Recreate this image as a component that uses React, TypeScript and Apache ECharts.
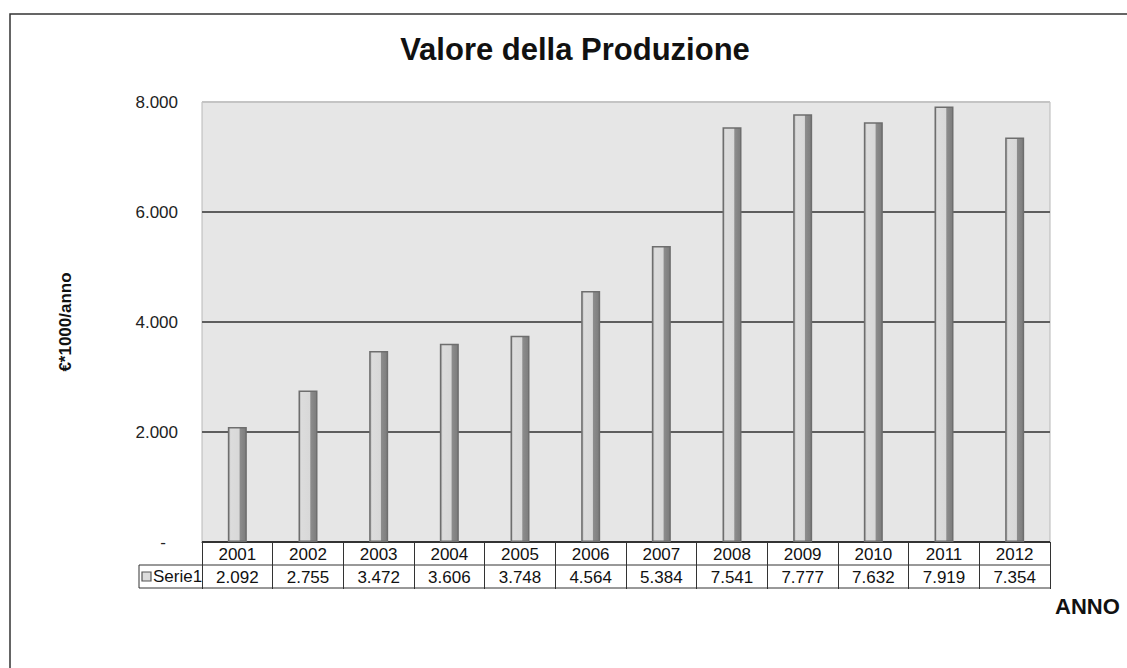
import React, { useEffect, useRef } from "react";
import * as echarts from "echarts";

const categories = ["2001", "2002", "2003", "2004", "2005", "2006", "2007", "2008", "2009", "2010", "2011", "2012"];
const values = [2092, 2755, 3472, 3606, 3748, 4564, 5384, 7541, 7777, 7632, 7919, 7354];
const seriesName = "Serie1";
const chartTitle = "Valore della Produzione";
const yAxisName = "€*1000/anno";
const xAxisName = "ANNO";
const yMin = 0;
const yMax = 8000;
const yInterval = 2000;

const W = 1127;
const H = 668;
const GRID_LEFT = 202;
const GRID_RIGHT = 77;
const GRID_TOP = 102;
const GRID_BOTTOM = 126;
const ROW_H = 23;

const fmt = (v: number) => String(v).replace(/\B(?=(\d{3})+(?!\d))/g, ".");

export default function App() {
  const ref = useRef<HTMLDivElement>(null);
  useEffect(() => {
    if (!ref.current) return;
    const chart = echarts.init(ref.current, undefined, { renderer: "svg" });
    const axisY = H - GRID_BOTTOM;
    const gridRightX = W - GRID_RIGHT;
    const legendLeft = 139;
    const font = "Arial, 'Liberation Sans', sans-serif";
    chart.setOption({
      animation: false,
      backgroundColor: "#ffffff",
      textStyle: { fontFamily: font },
      title: {
        text: chartTitle,
        left: 570,
        top: 29,
        textAlign: "center",
        textStyle: { fontSize: 31, fontWeight: "bold", color: "#111", fontFamily: font },
      },
      grid: {
        left: GRID_LEFT,
        right: GRID_RIGHT,
        top: GRID_TOP,
        bottom: GRID_BOTTOM,
        show: true,
        backgroundColor: "#e6e6e6",
        borderColor: "#b8b8b8",
        borderWidth: 1,
      },
      xAxis: {
        type: "category",
        data: categories,
        axisLine: { show: true, lineStyle: { color: "#333", width: 1 } },
        axisTick: { show: true, interval: 0, length: ROW_H * 2 + 1, lineStyle: { color: "#333", width: 1 } },
        axisLabel: {
          interval: 0,
          margin: 1,
          color: "#111",
          formatter: (value: string, idx: number) => `{y|${value}}\n{v|${fmt(values[idx])}}`,
          rich: {
            y: { fontSize: 17, lineHeight: ROW_H, color: "#111", fontFamily: font },
            v: { fontSize: 17, lineHeight: ROW_H, color: "#111", fontFamily: font },
          },
        },
      },
      yAxis: {
        type: "value",
        min: yMin,
        max: yMax,
        interval: yInterval,
        name: yAxisName,
        nameLocation: "middle",
        nameGap: 128,
        nameRotate: 90,
        nameTextStyle: { fontSize: 17, fontWeight: "bold", color: "#111", fontFamily: font },
        axisLine: { show: false },
        axisTick: { show: false },
        axisLabel: {
          margin: 24,
          fontSize: 17,
          color: "#222",
          fontFamily: font,
          formatter: (v: number) => (v === 0 ? "{d|-}" : fmt(v)),
          rich: { d: { fontSize: 17, color: "#222", padding: [0, 12, 0, 0], fontFamily: font } },
        },
        splitLine: {
          show: true,
          lineStyle: { color: ["#333", "#5e5e5e", "#5e5e5e", "#5e5e5e", "#c4c4c4"], width: 1.8 },
        },
      },
      series: [
        {
          name: seriesName,
          type: "bar",
          data: values,
          barWidth: 19,
          itemStyle: {
            color: new echarts.graphic.LinearGradient(0, 0, 1, 0, [
              { offset: 0, color: "#a8a8a8" },
              { offset: 0.12, color: "#dcdcdc" },
              { offset: 0.6, color: "#d8d8d8" },
              { offset: 0.66, color: "#8c8c8c" },
              { offset: 1, color: "#7c7c7c" },
            ]),
            borderColor: "#6e6e6e",
            borderWidth: 1.5,
          },
        },
      ],
      graphic: [
        {
          type: "rect",
          z: -10,
          silent: true,
          shape: { x: 10, y: 14, width: 1200, height: 700 },
          style: { fill: "none", stroke: "#333", lineWidth: 1.5 },
        },
        {
          type: "line",
          shape: { x1: legendLeft, y1: axisY + ROW_H, x2: gridRightX, y2: axisY + ROW_H },
          style: { stroke: "#333", lineWidth: 1 },
        },
        {
          type: "line",
          shape: { x1: legendLeft, y1: axisY + ROW_H * 2, x2: gridRightX, y2: axisY + ROW_H * 2 },
          style: { stroke: "#333", lineWidth: 1 },
        },
        {
          type: "line",
          shape: { x1: legendLeft, y1: axisY + ROW_H, x2: legendLeft, y2: axisY + ROW_H * 2 },
          style: { stroke: "#333", lineWidth: 1 },
        },
        {
          type: "rect",
          shape: { x: legendLeft + 3, y: axisY + ROW_H + 7, width: 9, height: 9 },
          style: { fill: "#dcdcdc", stroke: "#555", lineWidth: 1.2 },
        },
        {
          type: "text",
          x: legendLeft + 14,
          y: axisY + ROW_H * 1.5,
          style: { text: seriesName, fontSize: 17, fill: "#111", fontFamily: font, verticalAlign: "middle" },
        },
        {
          type: "text",
          x: 1055,
          y: 606,
          style: { text: xAxisName, fontSize: 22, fontWeight: "bold", fill: "#111", fontFamily: font, verticalAlign: "middle" },
        },
      ],
    });
    return () => chart.dispose();
  }, []);
  return <div ref={ref} style={{ position: "absolute", left: 0, top: 0, width: W, height: H }} />;
}
